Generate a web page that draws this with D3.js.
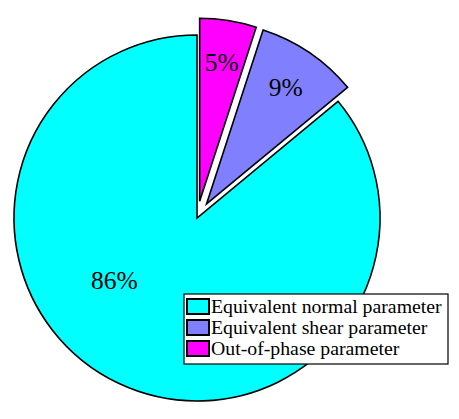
<!DOCTYPE html>
<html lang="en">
<head>
    <meta charset="UTF-8">
    <title>Parameter share pie</title>
    <script src="https://d3js.org/d3.v7.min.js"></script>
    <style>
        body { margin: 0; background: #fff; }
    </style>
</head>
<body>
    <div id="my_dataviz"></div>

    <script>
        // data (legend order)
        var categories = ["Equivalent normal parameter", "Equivalent shear parameter", "Out-of-phase parameter"];
        var values = [86, 9, 5];
        var labels = ["86%", "9%", "5%"];
        var colors = ["#00FFFF", "#8080FF", "#FF00FF"];
        var exploded = [false, true, true];

        var width = 459, height = 419;
        var cx = 197, cy = 218, radius = 183;
        var explode = 17;

        var svg = d3.select("#my_dataviz")
            .append("svg")
            .attr("width", width)
            .attr("height", height);

        var g = svg.append("g")
            .attr("transform", "translate(" + cx + "," + cy + ")");

        var rows = categories.map(function(c, i) {
            return {name: c, value: values[i], label: labels[i], color: colors[i], exploded: exploded[i]};
        });

        // counter-clockwise from 12 o'clock, like the original
        var pie = d3.pie()
            .sort(null)
            .value(function(d) { return d.value; })
            .startAngle(2 * Math.PI)
            .endAngle(0);

        var arc = d3.arc().innerRadius(0).outerRadius(radius);
        var arcs = pie(rows);

        function offset(d) {
            if (!d.data.exploded) return [0, 0];
            var a = (d.startAngle + d.endAngle) / 2;
            return [Math.sin(a) * explode, -Math.cos(a) * explode];
        }

        g.selectAll("path")
            .data(arcs)
            .enter()
            .append("path")
            .attr("d", arc)
            .attr("transform", function(d) { var o = offset(d); return "translate(" + o[0] + "," + o[1] + ")"; })
            .attr("fill", function(d) { return d.data.color; })
            .attr("stroke", "#000")
            .attr("stroke-width", 1.6)
            .attr("stroke-linejoin", "miter");

        // data labels
        g.selectAll("text.lbl")
            .data(arcs)
            .enter()
            .append("text")
            .attr("class", "lbl")
            .attr("transform", function(d) {
                var o = offset(d);
                var a = (d.startAngle + d.endAngle) / 2;
                var r = radius * 0.77;
                if (!d.data.exploded) { a = a + 0.49; r = 103; } // best-fit spot for the big slice
                return "translate(" + (o[0] + Math.sin(a) * r) + "," + (o[1] - Math.cos(a) * r) + ")";
            })
            .attr("text-anchor", "middle")
            .attr("dy", "0.35em")
            .style("font-family", "'Liberation Serif', 'Times New Roman', serif")
            .style("font-size", "25.5px")
            .style("fill", "#000")
            .text(function(d) { return d.data.label; });

        // legend
        var lx = 184, ly = 294, lw = 264, lh = 70;
        var legend = svg.append("g");
        legend.append("rect")
            .attr("x", lx).attr("y", ly)
            .attr("width", lw).attr("height", lh)
            .attr("fill", "#fff")
            .attr("stroke", "#000")
            .attr("stroke-width", 1.2);

        var item = legend.selectAll("g.item")
            .data(rows)
            .enter()
            .append("g")
            .attr("class", "item")
            .attr("transform", function(d, i) { return "translate(" + (lx + 2) + "," + (ly + 5 + i * 21) + ")"; });

        item.append("rect")
            .attr("x", 1).attr("y", 0)
            .attr("width", 22).attr("height", 15)
            .attr("fill", function(d) { return d.color; })
            .attr("stroke", "#000")
            .attr("stroke-width", 2);

        item.append("text")
            .attr("x", 25).attr("y", 14)
            .style("font-family", "'Liberation Serif', 'Times New Roman', serif")
            .style("font-size", "19.8px")
            .style("fill", "#000")
            .text(function(d) { return d.name; });
    </script>
</body>
</html>
